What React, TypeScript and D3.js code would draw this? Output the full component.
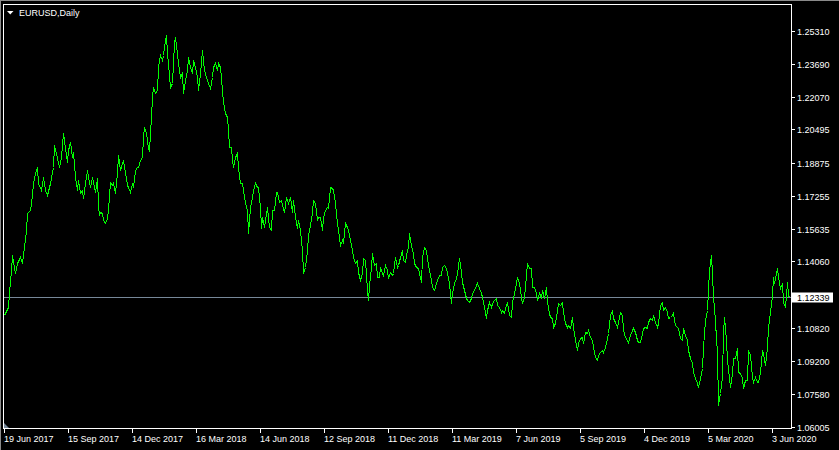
import { useRef, useEffect } from "react";
import * as d3 from "d3";

// EURUSD daily close: [bar index from 19 Jun 2017, close]
const closeSeries: [number, number][] = [
  [0, 1.11448], [4, 1.11854], [5, 1.12585], [7, 1.13642], [8, 1.14373], [11, 1.13479], [13, 1.13967], [16, 1.14292],
  [18, 1.13967], [20, 1.1478], [22, 1.15592], [23, 1.16405], [26, 1.16567], [28, 1.17299], [29, 1.17868], [31, 1.18355],
  [33, 1.1868], [34, 1.17868], [37, 1.17543], [39, 1.18193], [41, 1.17543], [43, 1.17299], [46, 1.17868], [49, 1.1868],
  [50, 1.19737], [53, 1.19087], [55, 1.1868], [57, 1.19168], [59, 1.20306], [61, 1.19574], [63, 1.18924], [64, 1.19493],
  [66, 1.19899], [68, 1.19168], [69, 1.19412], [71, 1.18193], [73, 1.17543], [74, 1.1803], [76, 1.1738], [78, 1.17543],
  [79, 1.17136], [81, 1.17868], [83, 1.18518], [84, 1.18193], [86, 1.17705], [88, 1.18193], [89, 1.17949], [91, 1.17461],
  [93, 1.18111], [94, 1.16811], [95, 1.16324], [96, 1.16486], [98, 1.16405], [99, 1.1608], [101, 1.15917], [103, 1.16161],
  [104, 1.16567], [106, 1.17949], [108, 1.17786], [109, 1.17868], [111, 1.1738], [113, 1.18355], [114, 1.19249], [116, 1.18518],
  [118, 1.18843], [119, 1.19005], [121, 1.18436], [123, 1.17786], [124, 1.17705], [126, 1.17461], [128, 1.17868], [129, 1.17705],
  [131, 1.18518], [133, 1.1868], [134, 1.1868], [136, 1.19005], [138, 1.19168], [139, 1.20143], [140, 1.20631], [142, 1.20306],
  [144, 1.19574], [145, 1.19493], [147, 1.21118], [148, 1.22093], [149, 1.22581], [151, 1.22256], [153, 1.22418], [154, 1.23556],
  [156, 1.24125], [158, 1.23881], [159, 1.24125], [160, 1.24531], [162, 1.251], [163, 1.24206], [164, 1.23719], [166, 1.22581],
  [168, 1.22744], [169, 1.23719], [170, 1.24694], [171, 1.25019], [173, 1.24206], [174, 1.23719], [176, 1.23069], [178, 1.23231],
  [179, 1.22256], [181, 1.22906], [183, 1.23394], [184, 1.24044], [186, 1.23556], [188, 1.23231], [189, 1.23881], [191, 1.23556],
  [193, 1.23069], [194, 1.22418], [196, 1.23231], [198, 1.24369], [199, 1.23881], [200, 1.23394], [202, 1.23069], [204, 1.22744],
  [206, 1.225], [208, 1.23069], [209, 1.23556], [211, 1.23719], [213, 1.23394], [214, 1.23719], [216, 1.23556], [218, 1.22418],
  [219, 1.2185], [221, 1.21281], [223, 1.21118], [224, 1.20468], [225, 1.19655], [227, 1.19655], [228, 1.19005], [229, 1.1868],
  [231, 1.19168], [233, 1.1933], [234, 1.1868], [236, 1.17868], [238, 1.17868], [239, 1.17543], [241, 1.16974], [243, 1.16567],
  [244, 1.1543], [246, 1.1673], [248, 1.17217], [249, 1.17543], [251, 1.17868], [253, 1.17705], [254, 1.17705],
  [256, 1.1673], [257, 1.15674], [258, 1.16242], [260, 1.15755], [261, 1.1608], [263, 1.1673], [265, 1.15755], [267, 1.15592],
  [268, 1.16567], [270, 1.16567], [272, 1.17461], [273, 1.17461], [275, 1.16974], [277, 1.17055], [278, 1.16811], [280, 1.16486],
  [282, 1.17218], [284, 1.16893], [286, 1.17218], [288, 1.16486], [289, 1.17055], [291, 1.16242], [293, 1.15674], [294, 1.1608],
  [296, 1.15592], [298, 1.14617], [299, 1.13479], [301, 1.13804], [303, 1.14617], [304, 1.15348], [306, 1.15836], [308, 1.16486],
  [309, 1.17055], [311, 1.16893], [313, 1.1608], [314, 1.16242], [316, 1.16242], [318, 1.15592], [319, 1.16242], [321, 1.16567],
  [323, 1.1673], [324, 1.16649], [326, 1.17705], [328, 1.17624], [329, 1.17543], [331, 1.16893], [333, 1.15917], [334, 1.15592],
  [336, 1.14861], [338, 1.15105], [339, 1.15023], [341, 1.15917], [343, 1.15755], [344, 1.15592], [346, 1.15105], [348, 1.14617],
  [349, 1.14292], [351, 1.13967], [353, 1.1413], [354, 1.13561], [356, 1.13154], [358, 1.13479], [359, 1.14211], [361, 1.1413],
  [363, 1.12667], [364, 1.12179], [365, 1.12911], [367, 1.13804], [368, 1.14455], [370, 1.13886], [372, 1.13967], [373, 1.13317],
  [375, 1.13317], [376, 1.13804], [378, 1.13479], [379, 1.13398], [381, 1.13886], [383, 1.13642], [384, 1.13236], [386, 1.13561],
  [388, 1.13398], [389, 1.13479], [391, 1.14292], [393, 1.13804], [394, 1.13886], [396, 1.14292], [398, 1.14617], [399, 1.1413],
  [401, 1.14048], [403, 1.14617], [404, 1.1478], [405, 1.1543], [407, 1.14861], [409, 1.14455], [410, 1.13967], [412, 1.13804],
  [414, 1.13723], [415, 1.13479], [417, 1.13073], [418, 1.14292], [420, 1.1478], [422, 1.14617], [423, 1.14211], [425, 1.13642],
  [427, 1.13154], [428, 1.12829], [430, 1.12667], [432, 1.12992], [433, 1.13154], [435, 1.13398], [437, 1.13398], [438, 1.13804],
  [440, 1.13886], [442, 1.13723], [443, 1.13479], [445, 1.12992], [447, 1.12017], [448, 1.12504], [450, 1.12992], [452, 1.13236],
  [453, 1.13479], [455, 1.14211], [457, 1.13561], [458, 1.13073], [460, 1.12667], [462, 1.1226], [463, 1.12179], [465, 1.12098],
  [467, 1.1226], [468, 1.12504], [470, 1.12667], [472, 1.12911], [473, 1.12992], [475, 1.12748], [477, 1.12504], [478, 1.12342],
  [480, 1.11854], [482, 1.11285], [483, 1.11692], [485, 1.12098], [487, 1.11854], [488, 1.12017], [490, 1.12179], [492, 1.1226],
  [493, 1.11935], [495, 1.11854], [497, 1.1161], [498, 1.11692], [500, 1.11529], [502, 1.11935], [503, 1.12098], [505, 1.11448],
  [507, 1.11366], [508, 1.12098], [510, 1.12504], [512, 1.12992], [513, 1.13317], [515, 1.12992], [517, 1.12342], [518, 1.12017],
  [520, 1.12342], [522, 1.13398], [523, 1.13967], [525, 1.13723], [527, 1.13723], [528, 1.12829], [530, 1.12829], [532, 1.12504],
  [533, 1.12179], [535, 1.12504], [537, 1.12342], [538, 1.12667], [540, 1.1226], [542, 1.12829], [543, 1.12098], [545, 1.11529],
  [546, 1.11366], [548, 1.11285], [549, 1.10878], [551, 1.11041], [553, 1.11691], [554, 1.12016], [556, 1.11935], [558, 1.12097],
  [559, 1.1161], [561, 1.11041], [563, 1.10878], [564, 1.10959], [566, 1.10797], [568, 1.11366], [569, 1.10878], [571, 1.10228],
  [573, 1.09741], [574, 1.10066], [576, 1.10309], [578, 1.10391], [579, 1.10066], [581, 1.10634], [583, 1.10553], [584, 1.10716],
  [586, 1.10391], [588, 1.10228], [589, 1.09903], [591, 1.09415], [593, 1.09253], [594, 1.09497], [596, 1.09659], [598, 1.09741],
  [599, 1.09659], [601, 1.09903], [603, 1.10309], [604, 1.10553], [606, 1.11447], [608, 1.11691], [609, 1.11285], [611, 1.11122],
  [613, 1.10878], [614, 1.11122], [616, 1.1161], [618, 1.11447], [619, 1.10716], [621, 1.10391], [623, 1.10228], [624, 1.10147],
  [626, 1.10472], [628, 1.10716], [629, 1.10797], [631, 1.10634], [633, 1.10228], [634, 1.10147], [636, 1.10147], [638, 1.10553],
  [639, 1.10797], [641, 1.10878], [643, 1.10797], [644, 1.11122], [646, 1.11285], [648, 1.11203], [649, 1.11447], [651, 1.11122],
  [653, 1.10878], [654, 1.11041], [656, 1.11935], [658, 1.12097], [659, 1.11691], [661, 1.11853], [663, 1.1161], [664, 1.11285],
  [666, 1.11366], [668, 1.11447], [669, 1.11528], [671, 1.10959], [673, 1.10878], [674, 1.10797], [676, 1.10309], [678, 1.10228],
  [679, 1.10797], [681, 1.10472], [683, 1.10228], [684, 1.09741], [686, 1.09334], [688, 1.0909], [689, 1.08684], [691, 1.08359],
  [693, 1.08115], [694, 1.07953], [696, 1.08359], [698, 1.08847], [699, 1.09903], [701, 1.11203], [703, 1.11691], [704, 1.12666],
  [705, 1.13641], [707, 1.14373], [708, 1.13479], [709, 1.1226], [710, 1.11853], [711, 1.11122], [713, 1.09578], [714, 1.07059],
  [716, 1.07628], [718, 1.0844], [719, 1.10553], [720, 1.11366], [722, 1.10228], [723, 1.09253], [725, 1.08359], [726, 1.07953],
  [728, 1.08603], [729, 1.09334], [731, 1.09334], [733, 1.09822], [734, 1.08684], [736, 1.08603], [738, 1.08359], [739, 1.07871],
  [741, 1.08278], [743, 1.08278], [744, 1.09741], [746, 1.09497], [748, 1.0844], [749, 1.08196], [751, 1.0844], [753, 1.08196],
  [754, 1.08196], [756, 1.08684], [758, 1.09741], [759, 1.09578], [761, 1.09009], [763, 1.09903], [764, 1.10878], [766, 1.1161],
  [768, 1.12422], [769, 1.13316], [770, 1.12991], [772, 1.13479], [773, 1.13722], [774, 1.13316], [776, 1.12747], [778, 1.12991],
  [779, 1.12097], [781, 1.11853], [783, 1.13072], [784, 1.12422], [785, 1.12339],
];

const priceTicks = [1.2531, 1.2369, 1.2207, 1.20495, 1.18875, 1.17255, 1.15635, 1.1406, 1.1082, 1.092, 1.0758, 1.06005];
const dateTickBars = [0, 64, 128, 192, 256, 320, 384, 448, 512, 576, 640, 704, 768];
const dateTickLabels = [
  "19 Jun 2017", "15 Sep 2017", "14 Dec 2017", "16 Mar 2018", "14 Jun 2018", "12 Sep 2018", "11 Dec 2018",
  "11 Mar 2019", "7 Jun 2019", "5 Sep 2019", "4 Dec 2019", "5 Mar 2020", "3 Jun 2020",
];
const bidPrice = 1.12339;
const chartTitle = "EURUSD,Daily";

export default function App() {
  const svgRef = useRef<SVGSVGElement>(null);

  useEffect(() => {
    if (!svgRef.current) return;
    document.body.style.margin = "0";
    document.body.style.background = "#000";

    const width = 839;
    const height = 450;
    const frame = { left: 3.5, top: 4.5, right: 791.5, bottom: 428.5 };
    const font = "'Liberation Sans', Arial, sans-serif";

    const svg = d3.select(svgRef.current);
    svg.selectAll("*").remove();
    svg.attr("width", width).attr("height", height).attr("viewBox", `0 0 ${width} ${height}`);

    svg.append("rect").attr("width", width).attr("height", height).attr("fill", "#000");
    // window edge
    svg.append("rect").attr("x", 0).attr("y", 0).attr("width", width).attr("height", 1).attr("fill", "#8a8a8a");
    svg.append("rect").attr("x", 0).attr("y", 0).attr("width", 1).attr("height", height).attr("fill", "#8a8a8a");

    const x = d3.scaleLinear().domain([0, 787]).range([4, 791]);
    const y = d3.scaleLinear().domain([1.06005, 1.2531]).range([426.7, 30.7]);

    // bid line
    const by = Math.round(y(bidPrice)) + 0.5;
    svg
      .append("line")
      .attr("x1", frame.left)
      .attr("x2", frame.right)
      .attr("y1", by)
      .attr("y2", by)
      .attr("stroke", "#778899")
      .attr("stroke-width", 1)
      .attr("shape-rendering", "crispEdges");

    // price line, aliased like the terminal draws it
    const lineGen = d3
      .line<[number, number]>()
      .x((d) => Math.round(x(d[0])) + 0.5)
      .y((d) => Math.round(y(d[1])) + 0.5);

    svg
      .append("path")
      .datum(closeSeries)
      .attr("fill", "none")
      .attr("stroke", "#00ff00")
      .attr("stroke-width", 1)
      .attr("shape-rendering", "crispEdges")
      .attr("d", lineGen);

    // scroll marker bottom-left
    svg.append("path").attr("d", "M4,423 L4,428 L9,428 Z").attr("fill", "#778899");

    // frame
    svg
      .append("rect")
      .attr("x", frame.left)
      .attr("y", frame.top)
      .attr("width", frame.right - frame.left)
      .attr("height", frame.bottom - frame.top)
      .attr("fill", "none")
      .attr("stroke", "#fff")
      .attr("stroke-width", 1)
      .attr("shape-rendering", "crispEdges");

    // price axis
    const yAxis = svg.append("g");
    priceTicks.forEach((p) => {
      const ty = Math.round(y(p)) + 0.5;
      yAxis
        .append("line")
        .attr("x1", frame.right)
        .attr("x2", frame.right + 3.5)
        .attr("y1", ty)
        .attr("y2", ty)
        .attr("stroke", "#fff")
        .attr("shape-rendering", "crispEdges");
      yAxis
        .append("text")
        .attr("x", 797)
        .attr("y", ty + 3.3)
        .attr("fill", "#fff")
        .attr("font-family", font)
        .attr("font-size", 9)
        .text(p.toFixed(5));
    });

    // bid label
    svg.append("rect").attr("x", 792).attr("y", by - 5).attr("width", 41).attr("height", 10).attr("fill", "#fff");
    svg
      .append("text")
      .attr("x", 797)
      .attr("y", by + 3.3)
      .attr("fill", "#000")
      .attr("font-family", font)
      .attr("font-size", 9)
      .text(bidPrice.toFixed(5));

    // time axis
    const xAxis = svg.append("g");
    dateTickBars.forEach((b, i) => {
      const tx = Math.round(x(b)) + 0.5;
      xAxis
        .append("line")
        .attr("x1", tx)
        .attr("x2", tx)
        .attr("y1", frame.bottom)
        .attr("y2", frame.bottom + 4)
        .attr("stroke", "#fff")
        .attr("shape-rendering", "crispEdges");
      xAxis
        .append("text")
        .attr("x", tx - 0.5)
        .attr("y", 441.5)
        .attr("fill", "#fff")
        .attr("font-family", font)
        .attr("font-size", 9)
        .text(dateTickLabels[i]);
    });

    // title
    svg.append("path").attr("d", "M7,11 L13.5,11 L10.25,14.5 Z").attr("fill", "#fff");
    svg
      .append("text")
      .attr("x", 19)
      .attr("y", 16)
      .attr("fill", "#fff")
      .attr("font-family", font)
      .attr("font-size", 9)
      .text(chartTitle);
  }, []);

  return (
    <div style={{ position: "absolute", left: 0, top: 0, width: 839, height: 450, background: "#000" }}>
      <svg ref={svgRef} style={{ display: "block" }} />
    </div>
  );
}
